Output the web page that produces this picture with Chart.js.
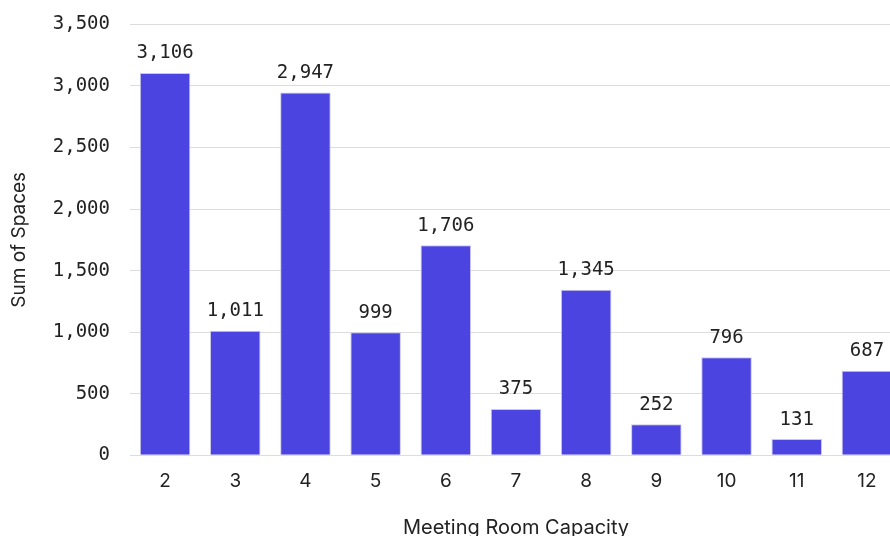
<!DOCTYPE html>
<html>
<head>
<meta charset="utf-8">
<script src="https://cdn.jsdelivr.net/npm/chart.js@4.4.0/dist/chart.umd.min.js"></script>
<style>
  html, body { margin: 0; padding: 0; background: #fff; overflow: hidden; }
  #wrap { width: 902px; height: 543px; margin-top: -7px; }
</style>
</head>
<body>
<div id="wrap"><canvas id="chart" width="902" height="543"></canvas></div>
<script>
// capacity categories
const capacities = ["2", "3", "4", "5", "6", "7", "8", "9", "10", "11", "12"];
// sum of spaces per capacity
const spaces = [3106, 1011, 2947, 999, 1706, 375, 1345, 252, 796, 131, 687];

const monoFont = "'DejaVu Sans Mono', 'Liberation Mono', monospace";
const sansFont = "Inter, Roboto, sans-serif";

//draw value above each bar
const barLabels = {
  id: "barLabels",
  afterDatasetsDraw(chart) {
    const ctx = chart.ctx;
    const meta = chart.getDatasetMeta(0);
    ctx.save();
    ctx.font = "19px " + monoFont;
    ctx.fillStyle = "#222";
    ctx.textAlign = "center";
    ctx.textBaseline = "bottom";
    meta.data.forEach((bar, i) => {
      ctx.fillText(spaces[i].toLocaleString("en-US"), bar.x, bar.y - 10);
    });
    ctx.restore();
  }
};

new Chart(document.getElementById("chart"), {
  type: "bar",
  plugins: [barLabels],
  data: {
    labels: capacities,
    datasets: [{
      data: spaces,
      backgroundColor: "#4c44e0",
      borderColor: "#c9c6e8",
      borderWidth: 1
    }]
  },
  options: {
    responsive: false,
    animation: false,
    layout: { padding: { top: 5, left: 4, bottom: -8 } },
    plugins: {
      legend: { display: false },
      tooltip: { enabled: false }
    },
    scales: {
      x: {
        grid: { display: false },
        border: { display: false },
        ticks: { color: "#222", font: { family: sansFont, size: 19 }, padding: 7 },
        title: {
          display: true,
          text: "Meeting Room Capacity",
          color: "#222",
          font: { family: sansFont, size: 20 },
          padding: { top: 16 }
        }
      },
      y: {
        min: 0,
        max: 3500,
        grid: { color: "#dddddd", drawTicks: false },
        border: { display: false },
        ticks: {
          stepSize: 500,
          color: "#222",
          padding: 20,
          font: { family: monoFont, size: 19 },
          callback: (v) => v.toLocaleString("en-US")
        },
        title: {
          display: true,
          text: "Sum of Spaces",
          color: "#222",
          font: { family: sansFont, size: 19 },
          padding: { bottom: 2 }
        }
      }
    }
  }
});
</script>
</body>
</html>
